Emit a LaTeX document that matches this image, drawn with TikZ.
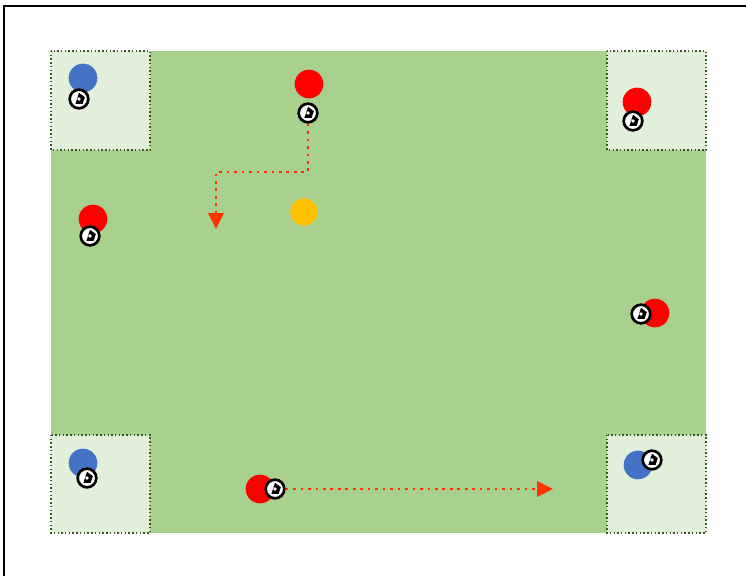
\documentclass[tikz,border=0pt]{standalone}
\usetikzlibrary{arrows.meta}
\definecolor{pitch}{HTML}{A9D18E}
\definecolor{zone}{HTML}{E2EFDA}
\definecolor{zoneline}{HTML}{385723}
\definecolor{teamblue}{HTML}{4472C4}
\definecolor{teamred}{HTML}{FF0000}
\definecolor{cone}{HTML}{FFC000}
\definecolor{runline}{HTML}{FF3300}
\tikzset{
 player/.style={circle,fill=#1,minimum size=21.5pt,inner sep=0pt},
 ball/.style={circle,draw=black,fill=white,line width=2pt,minimum size=14pt,inner sep=0pt,
  path picture={\fill[black] (path picture bounding box.center) ++(90:4.6pt) -- ++(-36:5.4pt) -- ++(-108:5.4pt) -- ++(180:5.4pt) -- cycle;
   \fill[white] (path picture bounding box.center) circle (1.4pt);}},
 conemark/.style={circle,fill=cone,minimum size=20.5pt,inner sep=0pt},
 zonebox/.style={fill=zone,draw=zoneline,line width=1.1pt,dash pattern=on 1.1pt off 1.7pt},
 run/.style={runline,line width=2pt,dash pattern=on 2pt off 3.6pt,-{Triangle[length=12pt,width=11.5pt]}}
}
\begin{document}
\begin{tikzpicture}[x=0.75pt,y=-0.75pt]
 \useasboundingbox (0,0) rectangle (746,576);
 \draw[line width=1.9pt] (4,576) -- (4,6) -- (746,6);
 % pitch and corner zones
 \fill[pitch] (51,51) rectangle (706,533);
 \draw[zonebox] (51,51) rectangle (150,150);
 \draw[zonebox] (607,51) rectangle (706,150);
 \draw[zonebox] (51,435) rectangle (150,533);
 \draw[zonebox] (607,435) rectangle (706,533);
 % players
 \node[player=teamblue] (p1) at (83,78) {};
 \node[ball] (b1) at (79,99) {};
 \node[player=teamred] (p2) at (309,84) {};
 \node[ball] (b2) at (308,113) {};
 \node[player=teamred] (p3) at (637,102) {};
 \node[ball] (b3) at (633,121) {};
 \node[player=teamred] (p4) at (93,219) {};
 \node[ball] (b4) at (90,236) {};
 \node[player=teamred] (p5) at (655,313) {};
 \node[ball] (b5) at (641,314) {};
 \node[player=teamblue] (p6) at (83,463) {};
 \node[ball] (b6) at (87,478) {};
 \node[player=teamred] (p7) at (260,489) {};
 \node[ball] (b7) at (275,489) {};
 \node[player=teamblue] (p8) at (638,465) {};
 \node[ball] (b8) at (652,460) {};
 \node[conemark] (c1) at (304,212) {};
 % runs
 \coordinate (t1) at (216,172);
 \coordinate (e1) at (216,229);
 \coordinate (e2) at (553,489);
 \draw[run] (b2.south) |- (t1) -- (e1);
 \draw[run] (b7.east) -- (e2);
\end{tikzpicture}
\end{document}
